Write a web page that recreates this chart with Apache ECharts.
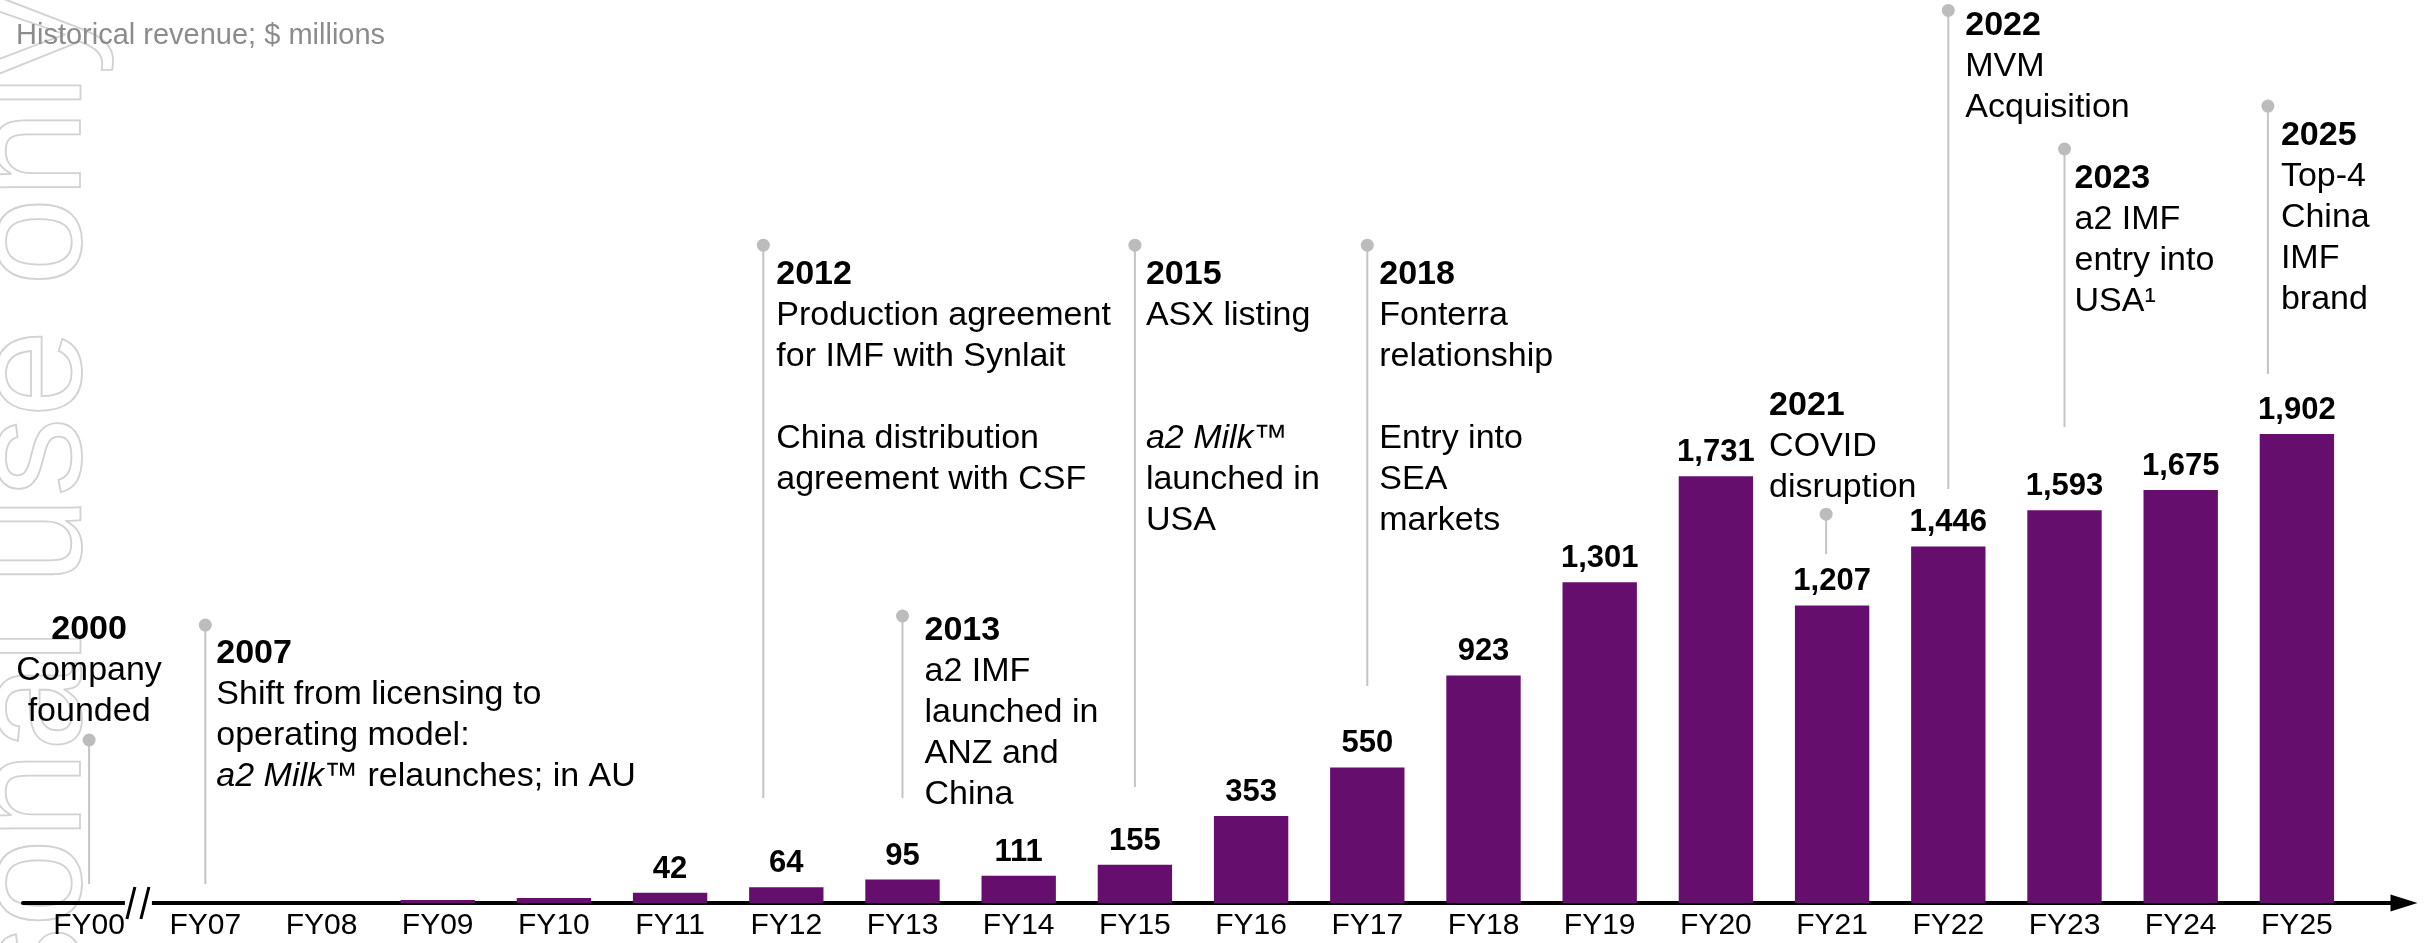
<!DOCTYPE html>
<html>
<head>
<meta charset="utf-8">
<script src="https://cdn.jsdelivr.net/npm/echarts@6/dist/echarts.min.js"></script>
<style>
html, body { margin: 0; padding: 0; background: #fff; }
#revenue { width: 2433px; height: 943px; }
</style>
</head>
<body>
<div id="revenue"></div>
<script>
// fiscal years (FY00 sits before the axis break)
const years = ['FY00', 'FY07', 'FY08', 'FY09', 'FY10', 'FY11', 'FY12', 'FY13', 'FY14', 'FY15',
    'FY16', 'FY17', 'FY18', 'FY19', 'FY20', 'FY21', 'FY22', 'FY23', 'FY24', 'FY25'];

// historical revenue, $ millions
const revenue = [null, 0, 0, 12, 20, 42, 64, 95, 111, 155,
    353, 550, 923, 1301, 1731, 1207, 1446, 1593, 1675, 1902];

// milestones: year, bar they point to, text lines
const milestoneYear = ['2000', '2007', '2012', '2013', '2015', '2018', '2021', '2022', '2023', '2025'];
const milestoneBar = ['FY00', 'FY07', 'FY12', 'FY13', 'FY15', 'FY17', 'FY21', 'FY22', 'FY23', 'FY25'];
const milestoneText = [
    ['Company', 'founded'],
    ['Shift from licensing to', 'operating model:', '{i|a2 Milk}{t|™ relaunches; in AU}'],
    ['Production agreement', 'for IMF with Synlait', '', 'China distribution', 'agreement with CSF'],
    ['a2 IMF', 'launched in', 'ANZ and', 'China'],
    ['ASX listing', '', '', '{i|a2 Milk}{t|™}', 'launched in', 'USA'],
    ['Fonterra', 'relationship', '', 'Entry into', 'SEA', 'markets'],
    ['COVID', 'disruption'],
    ['MVM', 'Acquisition'],
    ['a2 IMF', 'entry into', 'USA¹'],
    ['Top-4', 'China', 'IMF', 'brand']
];

// where each pin sits, in revenue units, plus text placement
const pinLayout = [
    { top: 661,  bottom: 77,   dx: 0,   tx: 0,   ty: -8,  align: 'center', v: 'bottom' },
    { top: 1127, bottom: 77,   dx: 0,   tx: 11,  ty: 8,   align: 'left',   v: 'top' },
    { top: 2668, bottom: 426,  dx: -23, tx: 13,  ty: 9,   align: 'left',   v: 'top' },
    { top: 1164, bottom: 426,  dx: 0,   tx: 22,  ty: -6,  align: 'left',   v: 'top' },
    { top: 2668, bottom: 470,  dx: 0,   tx: 11,  ty: 9,   align: 'left',   v: 'top' },
    { top: 2668, bottom: 880,  dx: 0,   tx: 12,  ty: 9,   align: 'left',   v: 'top' },
    { top: 1577, bottom: 1415, dx: -6,  tx: -57, ty: -6,  align: 'left',   v: 'bottom' },
    { top: 3620, bottom: 1679, dx: 0,   tx: 17,  ty: -5,  align: 'left',   v: 'top' },
    { top: 3058, bottom: 1930, dx: 0,   tx: 10,  ty: 9,   align: 'left',   v: 'top' },
    { top: 3232, bottom: 2145, dx: -29, tx: 13,  ty: 9,   align: 'left',   v: 'top' }
];

const FONT = '"Liberation Sans", Arial, Helvetica, sans-serif';
const LH = 41;

function richLine(line) {
    if (line === '') return '{t| }';
    return line.indexOf('{') === 0 ? line : '{t|' + line + '}';
}

const pinData = milestoneYear.map(function (y, i) {
    return [years.indexOf(milestoneBar[i]), pinLayout[i].top, pinLayout[i].bottom, i];
});

function renderPin(params, api) {
    const i = api.value(3);
    const lay = pinLayout[i];
    const p1 = api.coord([api.value(0), api.value(1)]);
    const p2 = api.coord([api.value(0), api.value(2)]);
    const x = p1[0] + lay.dx;
    const text = ['{y|' + milestoneYear[i] + '}'].concat(milestoneText[i].map(richLine)).join('\n');
    return {
        type: 'group',
        children: [
            { type: 'line', shape: { x1: x, y1: p1[1], x2: x, y2: p2[1] },
              style: { stroke: '#c4c4c4', lineWidth: 2 } },
            { type: 'circle', shape: { cx: x, cy: p1[1], r: 6.5 },
              style: { fill: '#bcbcbc' } },
            { type: 'text', x: x + lay.tx, y: p1[1] + lay.ty,
              style: {
                  text: text,
                  align: lay.align,
                  verticalAlign: lay.v,
                  fill: '#000',
                  fontSize: 34,
                  fontFamily: FONT,
                  lineHeight: LH,
                  rich: {
                      y: { fontSize: 34, fontWeight: 'bold', fontFamily: FONT, lineHeight: LH, fill: '#000' },
                      t: { fontSize: 34, fontFamily: FONT, lineHeight: LH, fill: '#000' },
                      i: { fontSize: 34, fontStyle: 'italic', fontFamily: FONT, lineHeight: LH, fill: '#000' }
                  }
              } }
        ]
    };
}

// the "//" break between FY00 and FY07
function renderBreak(params, api) {
    const a = api.coord([0, 0]);
    const b = api.coord([1, 0]);
    const cx = a[0] + (b[0] - a[0]) * 0.42;
    const y = a[1];
    return {
        type: 'group',
        children: [
            { type: 'rect', shape: { x: cx - 13, y: y - 4, width: 27, height: 8 }, style: { fill: '#fff' } },
            { type: 'line', shape: { x1: cx - 11, y1: y + 16, x2: cx - 3, y2: y - 16 },
              style: { stroke: '#000', lineWidth: 3 } },
            { type: 'line', shape: { x1: cx + 3, y1: y + 16, x2: cx + 11, y2: y - 16 },
              style: { stroke: '#000', lineWidth: 3 } }
        ]
    };
}

const chart = echarts.init(document.getElementById('revenue'));

const option = {
    backgroundColor: '#fff',
    animation: false,
    title: {
        text: 'Historical revenue; $ millions',
        left: 11,
        top: 16,
        textStyle: { fontSize: 29, fontWeight: 'normal', color: '#8c8c8c', fontFamily: FONT }
    },
    graphic: [{
        type: 'text',
        x: 115,
        y: -4,
        rotation: Math.PI / 2,
        z: -10,
        silent: true,
        style: {
            text: 'For personal use only',
            fontSize: 158,
            fontFamily: FONT,
            align: 'right',
            verticalAlign: 'bottom',
            fill: 'rgba(0,0,0,0)',
            stroke: '#d2d2d2',
            lineWidth: 1.8
        }
    }],
    grid: [
        { left: 31, right: 78, top: 3, bottom: 40 },
        { left: 23, right: 29, top: 3, bottom: 40 }
    ],
    xAxis: [
        {
            type: 'category',
            gridIndex: 0,
            data: years,
            axisLine: { show: false },
            axisTick: { show: false },
            axisLabel: { color: '#000', fontSize: 30, fontFamily: FONT, margin: 8, interval: 0 }
        },
        {
            type: 'value',
            gridIndex: 1,
            min: 0,
            max: 1,
            axisLabel: { show: false },
            axisTick: { show: false },
            splitLine: { show: false },
            axisLine: {
                show: true,
                lineStyle: { color: '#000', width: 4 },
                symbol: ['none', 'triangle'],
                symbolSize: [17, 27]
            }
        }
    ],
    yAxis: [
        { type: 'value', gridIndex: 0, min: 0, max: 3650, show: false },
        { type: 'value', gridIndex: 1, min: 0, max: 1, show: false }
    ],
    series: [
        {
            type: 'bar',
            xAxisIndex: 0,
            yAxisIndex: 0,
            barWidth: '64%',
            itemStyle: { color: '#650E6E' },
            data: revenue.map(function (v, i) {
                return { value: v, label: { show: i >= years.indexOf('FY11') } };
            }),
            label: {
                position: 'top',
                distance: 8,
                color: '#000',
                fontSize: 31,
                fontWeight: 'bold',
                fontFamily: FONT,
                formatter: function (p) { return p.value.toLocaleString('en-US'); }
            }
        },
        {
            type: 'custom',
            xAxisIndex: 0,
            yAxisIndex: 0,
            renderItem: renderPin,
            encode: { x: 0, y: 1 },
            clip: false,
            silent: true,
            data: pinData
        },
        {
            type: 'custom',
            xAxisIndex: 0,
            yAxisIndex: 0,
            renderItem: renderBreak,
            clip: false,
            silent: true,
            z: 5,
            data: [[0, 0]]
        }
    ]
};

chart.setOption(option);
</script>
</body>
</html>
